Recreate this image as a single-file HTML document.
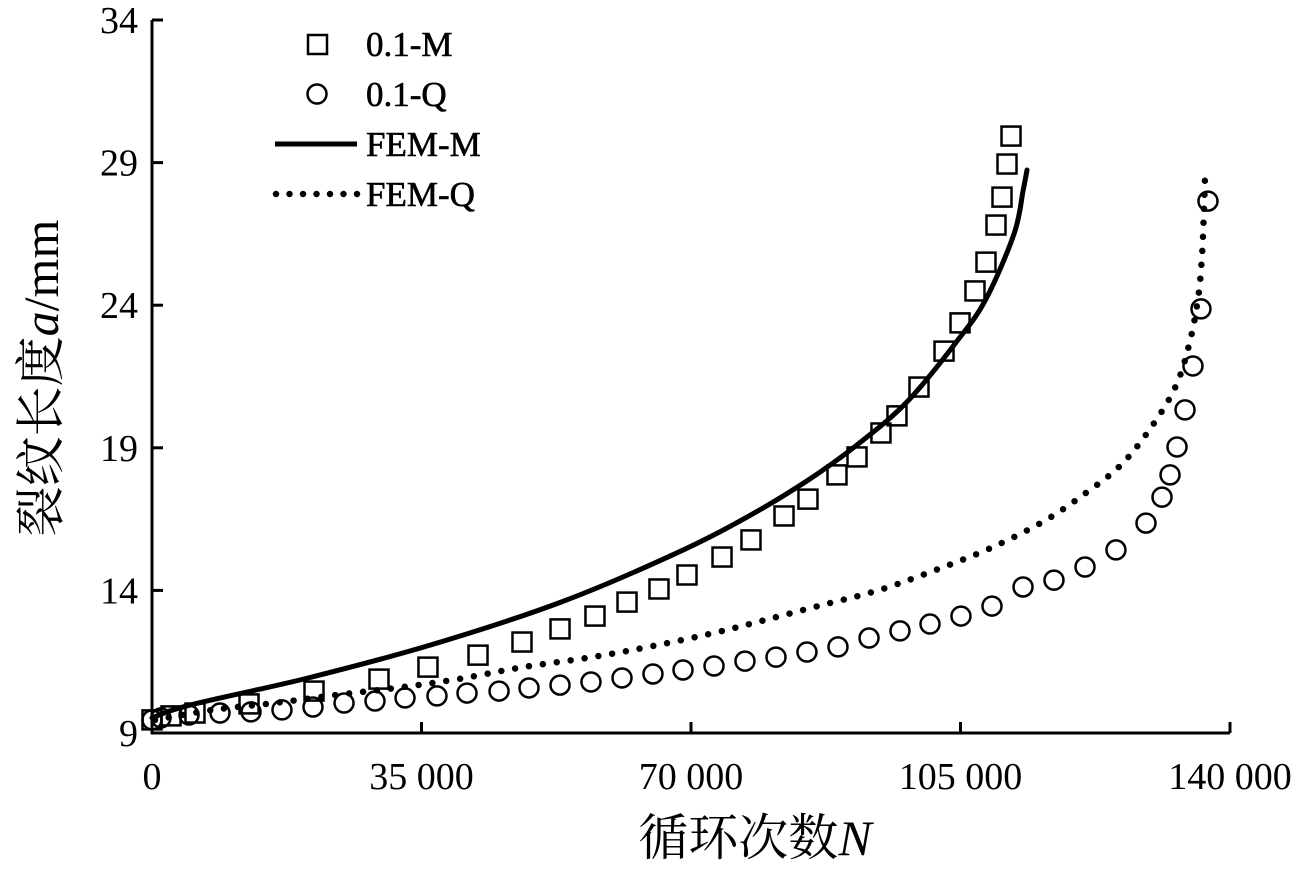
<!DOCTYPE html>
<html><head><meta charset="utf-8"><style>
html,body{margin:0;padding:0;background:#fff;}
svg{display:block;}
text{font-family:"Liberation Serif","Noto Serif CJK SC",serif;fill:#000;}
</style></head><body>
<svg id="chart" width="1312" height="877" viewBox="0 0 1312 877" xmlns="http://www.w3.org/2000/svg">
<g id="plot"></g>
</svg>
<script>
const xTicks=[0,35000,70000,105000,140000];
const xTickLabels=["0","35 000","70 000","105 000","140 000"];
const yTicks=[9,14,19,24,29,34];
const yTickLabels=["9","14","19","24","29","34"];
const mX=[0,2470,5580,12600,21040,29480,35840,42340,48050,52990,57530,61690,65840,69480,74030,77790,82080,85190,88960,91560,94670,96750,99610,102860,104940,106880,108310,109610,110390,111040,111560];
const mY=[9.46,9.60,9.70,10.02,10.47,10.89,11.31,11.73,12.19,12.65,13.10,13.59,14.05,14.54,15.17,15.77,16.61,17.20,18.05,18.68,19.52,20.12,21.13,22.39,23.38,24.50,25.51,26.81,27.79,28.95,29.93];
const qX=[0,1170,4810,8830,12860,16880,20910,24940,28960,32860,37010,40910,45070,48960,52990,57010,61040,65060,68960,72990,77010,81040,85060,89090,93120,97140,101040,105060,109090,113120,117140,121170,125190,129090,131170,132210,133120,134160,135190,136230,137140];
const qY=[9.46,9.53,9.63,9.70,9.74,9.81,9.91,10.05,10.12,10.23,10.30,10.40,10.47,10.58,10.68,10.79,10.93,11.07,11.21,11.35,11.52,11.66,11.84,12.02,12.33,12.58,12.82,13.10,13.45,14.12,14.36,14.82,15.42,16.36,17.27,18.05,19.03,20.33,21.87,23.87,27.65];
const femMX=[0,4940,20260,36230,53120,68050,77660,85060,91560,98050,104550,108310,111950,113120,113640];
const femMY=[9.53,9.98,10.93,12.09,13.59,15.30,16.63,17.84,19.10,20.61,22.74,24.22,26.50,28.00,28.74];
const femQX=[390,7920,15840,23770,31690,39740,48180,57140,65060,72990,78570,86490,94410,101820,109220,116100,121300,125840,129610,132860,134680,135840,136360,136620,136750];
const femQY=[9.46,9.81,10.05,10.33,10.58,10.89,11.31,11.66,12.05,12.51,12.89,13.45,14.01,14.72,15.52,16.47,17.42,18.40,19.66,21.10,22.60,24.22,25.72,27.37,28.50];

const X0=152,X1=1230,Y0=733,Y1=20;
function sx(v){return X0+(v-0)/(140000-0)*(X1-X0);}
function sy(v){return Y0-(v-9)/(34-9)*(Y0-Y1);}
const NS="http://www.w3.org/2000/svg";
const g=document.getElementById('plot');
function mk(tag,attrs,parent){const e=document.createElementNS(NS,tag);for(const k in attrs)e.setAttribute(k,attrs[k]);(parent||g).appendChild(e);return e;}

let a=mk('line',{x1:X0,y1:Y1,x2:X0,y2:Y0+1,stroke:'#000','stroke-width':3});


a=mk('line',{x1:X0-1,y1:Y0,x2:X1,y2:Y0,stroke:'#000','stroke-width':3});



xTicks.forEach((v,i)=>{
  const t=mk('line',{x1:sx(v),y1:Y0,x2:sx(v),y2:Y0-11,stroke:'#000','stroke-width':3});
  
  
  const l=mk('text',{x:sx(v),y:789,'text-anchor':'middle','font-size':38});
  l.textContent=xTickLabels[i];
  
  
});
yTicks.forEach((v,i)=>{
  const t=mk('line',{x1:X0,y1:sy(v),x2:X0+11,y2:sy(v),stroke:'#000','stroke-width':3});
  
  
  const l=mk('text',{x:138,y:sy(v)+13,'text-anchor':'end','font-size':38});
  l.textContent=yTickLabels[i];
  
  
});

function smoothPath(xs,ys){
  const P=xs.map((x,i)=>[sx(x),sy(ys[i])]);
  let d='M'+P[0][0].toFixed(1)+','+P[0][1].toFixed(1);
  for(let i=0;i<P.length-1;i++){
    const p0=P[Math.max(0,i-1)],p1=P[i],p2=P[i+1],p3=P[Math.min(P.length-1,i+2)];
    const c1=[p1[0]+(p2[0]-p0[0])/6,p1[1]+(p2[1]-p0[1])/6];
    const c2=[p2[0]-(p3[0]-p1[0])/6,p2[1]-(p3[1]-p1[1])/6];
    d+=' C'+c1.map(v=>v.toFixed(1)).join(',')+' '+c2.map(v=>v.toFixed(1)).join(',')+' '+p2.map(v=>v.toFixed(1)).join(',');
  }
  return d;
}
let p=mk('path',{d:smoothPath(femMX,femMY),fill:'none',stroke:'#000','stroke-width':5,'stroke-linecap':'round','stroke-linejoin':'round'});


p=mk('path',{d:smoothPath(femQX,femQY),fill:'none',stroke:'#000','stroke-width':6.5,'stroke-linecap':'round','stroke-dasharray':'0 14'});



mX.forEach((x,i)=>{
  const r=mk('rect',{x:sx(x)-9.5,y:sy(mY[i])-9.5,width:19,height:19,fill:'none',stroke:'#000','stroke-width':2.5});
  
  
});
qX.forEach((x,i)=>{
  const c=mk('circle',{cx:sx(x),cy:sy(qY[i]),r:9.5,fill:'none',stroke:'#000','stroke-width':2.5});
  
  
});

const lg=mk('g',{});


let e=mk('rect',{x:308,y:35,width:19,height:19,fill:'none',stroke:'#000','stroke-width':2.5},lg);


e=mk('circle',{cx:317,cy:94,r:9.5,fill:'none',stroke:'#000','stroke-width':2.5},lg);


e=mk('line',{x1:275,y1:144,x2:357,y2:144,stroke:'#000','stroke-width':5},lg);


e=mk('line',{x1:276,y1:194,x2:358,y2:194,stroke:'#000','stroke-width':6.5,'stroke-linecap':'round','stroke-dasharray':'0 13.5'},lg);


const legTexts=["0.1-M","0.1-Q","FEM-M","FEM-Q"];
const legY=[56,106,156,206];
legTexts.forEach((s,i)=>{
  const t=mk('text',{x:366,y:legY[i],'font-size':35,stroke:'#000','stroke-width':0.6},lg);
  t.textContent=s;
  
  
});

let tt=mk('text',{x:755,y:855,'text-anchor':'middle','font-size':50});
tt.innerHTML='循环次数<tspan font-style="italic">N</tspan>';


tt=mk('text',{x:0,y:0,'text-anchor':'middle','font-size':50,transform:'translate(58,378) rotate(-90)'});
tt.innerHTML='裂纹长度<tspan font-style="italic">a</tspan>/mm';


</script>
</body></html>
